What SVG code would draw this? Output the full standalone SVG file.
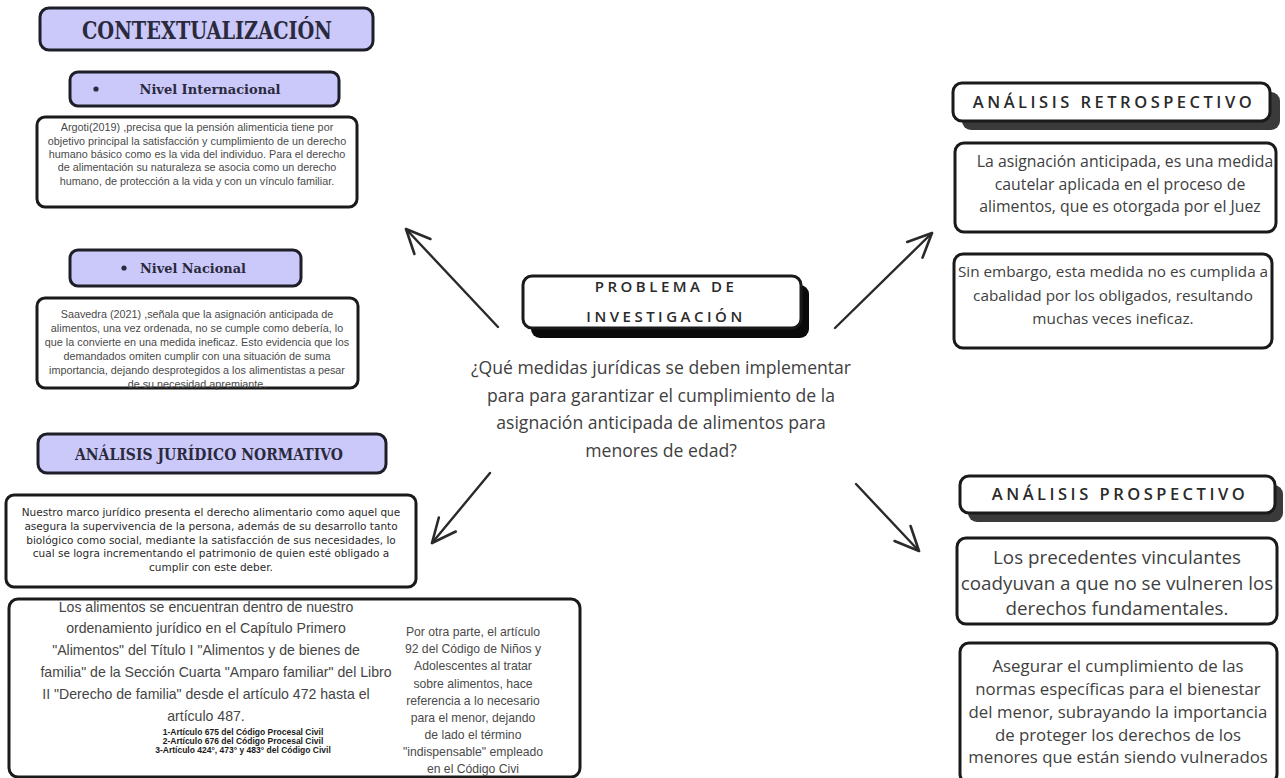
<svg xmlns="http://www.w3.org/2000/svg" width="1285" height="778" viewBox="0 0 1285 778">
<defs>
<style>
.lav{fill:#cbc8fa;stroke:#1e1e28;stroke-width:3}
.box{fill:#fff;stroke:#1a1a1a;stroke-width:3}
.sh{fill:#3a3a3a}
.shb{fill:#0a0a0a}
.hs{font-family:"DejaVu Serif","Liberation Serif",serif;font-weight:bold;fill:#2a2a3c;text-anchor:middle}
.sm{font-family:"Liberation Sans",Arial,sans-serif;font-size:10.8px;fill:#4a4a4a;text-anchor:middle}
.nm{font-family:"DejaVu Sans",sans-serif;font-size:10.5px;fill:#2a2a2a;text-anchor:middle}
.md{font-family:"Liberation Sans",Arial,sans-serif;font-size:14.1px;fill:#454545;text-anchor:middle}
.rc{font-family:"Liberation Sans",Arial,sans-serif;font-size:12.2px;fill:#4a4a4a;text-anchor:middle}
.bd{font-family:"Liberation Sans",Arial,sans-serif;font-size:8.5px;font-weight:bold;fill:#1a1a1a;text-anchor:middle}
.rh{font-family:"Open Sans","DejaVu Sans",sans-serif;font-weight:600;fill:#2a2a2a;text-anchor:middle;letter-spacing:3.5px}
.rt{font-family:"Open Sans","DejaVu Sans",sans-serif;fill:#404040;text-anchor:middle}
.cn{fill:none;stroke:#2a2a2a;stroke-width:2.4;stroke-linecap:round}
</style>
<marker id="ah" viewBox="-30 -15 34 30" refX="0" refY="0" markerWidth="34" markerHeight="30" markerUnits="userSpaceOnUse" orient="auto">
<path d="M-24,-11 L0,0 L-24,11" fill="none" stroke="#2a2a2a" stroke-width="2.6" stroke-linecap="round" stroke-linejoin="round"/>
</marker>
</defs>
<rect width="1285" height="778" fill="#fff"/>

<g id="connectors">
<path class="cn" d="M498,327 L406,229" marker-end="url(#ah)"/>
<path class="cn" d="M835,328 L932,233" marker-end="url(#ah)"/>
<path class="cn" d="M490,473 L432,543" marker-end="url(#ah)"/>
<path class="cn" d="M856,484 L919,551" marker-end="url(#ah)"/>
</g>

<g id="contextualizacion">
<rect class="lav" x="40" y="8" width="333" height="42" rx="9"/>
<text class="hs" x="207" y="39" font-size="24" textLength="250" lengthAdjust="spacingAndGlyphs">CONTEXTUALIZACIÓN</text>
</g>

<g id="nivel-internacional">
<rect class="lav" x="70" y="72" width="269" height="34" rx="8"/>
<circle cx="96" cy="89" r="2.6" fill="#2a2a3c"/>
<text class="hs" x="210" y="94" font-size="13.5" textLength="141" lengthAdjust="spacingAndGlyphs">Nivel Internacional</text>
</g>

<g id="argoti">
<rect class="box" x="37" y="117" width="320" height="90" rx="8"/>
<text class="sm" x="197" y="131">Argoti(2019) ,precisa que la pensión alimenticia tiene por</text>
<text class="sm" x="197" y="145">objetivo principal la satisfacción y cumplimiento de un derecho</text>
<text class="sm" x="197" y="158">humano básico como es la vida del individuo. Para el derecho</text>
<text class="sm" x="197" y="171">de alimentación su naturaleza se asocia como un derecho</text>
<text class="sm" x="197" y="185">humano, de protección a la vida y con un vínculo familiar.</text>
</g>

<g id="nivel-nacional">
<rect class="lav" x="70" y="250" width="231" height="36" rx="8"/>
<circle cx="124" cy="268" r="2.6" fill="#2a2a3c"/>
<text class="hs" x="193" y="273" font-size="13.5" textLength="106" lengthAdjust="spacingAndGlyphs">Nivel Nacional</text>
</g>

<g id="saavedra">
<rect class="box" x="37" y="298" width="321" height="90" rx="8"/>
<text class="sm" x="197" y="318">Saavedra (2021) ,señala que la asignación anticipada de</text>
<text class="sm" x="197" y="332">alimentos, una vez ordenada, no se cumple como debería, lo</text>
<text class="sm" x="197" y="346">que la convierte en una medida ineficaz. Esto evidencia que los</text>
<text class="sm" x="197" y="360">demandados omiten cumplir con una situación de suma</text>
<text class="sm" x="197" y="374">importancia, dejando desprotegidos a los alimentistas a pesar</text>
<text class="sm" x="197" y="388">de su necesidad apremiante.</text>
</g>

<g id="analisis-juridico">
<rect class="lav" x="38" y="434" width="348" height="39" rx="9"/>
<text class="hs" x="209" y="460" font-size="16" textLength="268" lengthAdjust="spacingAndGlyphs">ANÁLISIS JURÍDICO NORMATIVO</text>
</g>

<g id="marco-juridico">
<rect class="box" x="6" y="495" width="410" height="92" rx="8"/>
<text class="nm" x="211" y="516">Nuestro marco jurídico presenta el derecho alimentario como aquel que</text>
<text class="nm" x="211" y="530">asegura la supervivencia de la persona, además de su desarrollo tanto</text>
<text class="nm" x="211" y="544">biológico como social, mediante la satisfacción de sus necesidades, lo</text>
<text class="nm" x="211" y="557">cual se logra incrementando el patrimonio de quien esté obligado a</text>
<text class="nm" x="211" y="571">cumplir con este deber.</text>
</g>

<g id="alimentos">
<rect class="box" x="9" y="599" width="571" height="178" rx="9"/>
<text class="md" x="206" y="612">Los alimentos se encuentran dentro de nuestro</text>
<text class="md" x="206" y="633">ordenamiento jurídico en el Capítulo Primero</text>
<text class="md" x="206" y="655">"Alimentos" del Título I "Alimentos y de bienes de</text>
<text class="md" x="216" y="677">familia" de la Sección Cuarta "Amparo familiar" del Libro</text>
<text class="md" x="206" y="699">II "Derecho de familia" desde el artículo 472 hasta el</text>
<text class="md" x="206" y="721">artículo 487.</text>
<text class="bd" x="243" y="735">1-Artículo 675 del Código Procesal Civil</text>
<text class="bd" x="243" y="744">2-Artículo 676 del Código Procesal Civil</text>
<text class="bd" x="243" y="753">3-Artículo 424°, 473° y 483° del Código Civil</text>
<text class="rc" x="473" y="636">Por otra parte, el artículo</text>
<text class="rc" x="473" y="653">92 del Código de Niños y</text>
<text class="rc" x="473" y="670">Adolescentes al tratar</text>
<text class="rc" x="473" y="688">sobre alimentos, hace</text>
<text class="rc" x="473" y="705">referencia a lo necesario</text>
<text class="rc" x="473" y="722">para el menor, dejando</text>
<text class="rc" x="473" y="739">de lado el término</text>
<text class="rc" x="473" y="756">"indispensable" empleado</text>
<text class="rc" x="473" y="773">en el Código Civi</text>
</g>

<g id="problema">
<rect class="shb" x="531" y="285" width="278" height="53" rx="9"/>
<rect class="box" x="523" y="276" width="278" height="52" rx="9"/>
<text class="rh" x="666" y="292" font-size="15" letter-spacing="2.8">PROBLEMA DE</text>
<text class="rh" x="666" y="322" font-size="15" letter-spacing="2.8">INVESTIGACIÓN</text>
</g>

<g id="pregunta">
<text class="rt" x="661" y="374" font-size="17.6">¿Qué medidas jurídicas se deben implementar</text>
<text class="rt" x="661" y="402" font-size="17.6">para para garantizar el cumplimiento de la</text>
<text class="rt" x="661" y="429" font-size="17.6">asignación anticipada de alimentos para</text>
<text class="rt" x="661" y="457" font-size="17.6">menores de edad?</text>
</g>

<g id="analisis-retrospectivo">
<rect class="sh" x="962" y="92" width="318" height="38" rx="9"/>
<rect class="box" x="953" y="83" width="317" height="38" rx="9"/>
<text class="rh" x="1114" y="108" font-size="16.5">ANÁLISIS RETROSPECTIVO</text>
</g>

<g id="asignacion">
<rect class="box" x="955" y="143" width="321" height="89" rx="9"/>
<text class="rt" x="1125" y="167" font-size="15.8">La asignación anticipada, es una medida</text>
<text class="rt" x="1120" y="190" font-size="15.8">cautelar aplicada en el proceso de</text>
<text class="rt" x="1120" y="212" font-size="15.8">alimentos, que es otorgada por el Juez</text>
</g>

<g id="sin-embargo">
<rect class="box" x="954" y="254" width="318" height="94" rx="9"/>
<text class="rt" x="1113" y="277" font-size="15.3">Sin embargo, esta medida no es cumplida a</text>
<text class="rt" x="1113" y="301" font-size="15.3">cabalidad por los obligados, resultando</text>
<text class="rt" x="1113" y="324" font-size="15.3">muchas veces ineficaz.</text>
</g>

<g id="analisis-prospectivo">
<rect class="sh" x="968" y="485" width="315" height="37" rx="9"/>
<rect class="box" x="960" y="476" width="315" height="37" rx="9"/>
<text class="rh" x="1120" y="500" font-size="16.5">ANÁLISIS PROSPECTIVO</text>
</g>

<g id="precedentes">
<rect class="box" x="957" y="538" width="320" height="86" rx="9"/>
<text class="rt" x="1117" y="564" font-size="18.8">Los precedentes vinculantes</text>
<text class="rt" x="1117" y="590" font-size="18.8">coadyuvan a que no se vulneren los</text>
<text class="rt" x="1117" y="615" font-size="18.8">derechos fundamentales.</text>
</g>

<g id="asegurar">
<rect class="box" x="960" y="643" width="317" height="140" rx="9"/>
<text class="rt" x="1118" y="672" font-size="16.8">Asegurar el cumplimiento de las</text>
<text class="rt" x="1118" y="695" font-size="16.8">normas específicas para el bienestar</text>
<text class="rt" x="1118" y="718" font-size="16.8">del menor, subrayando la importancia</text>
<text class="rt" x="1118" y="741" font-size="16.8">de proteger los derechos de los</text>
<text class="rt" x="1118" y="763" font-size="16.8">menores que están siendo vulnerados</text>
</g>
</svg>
